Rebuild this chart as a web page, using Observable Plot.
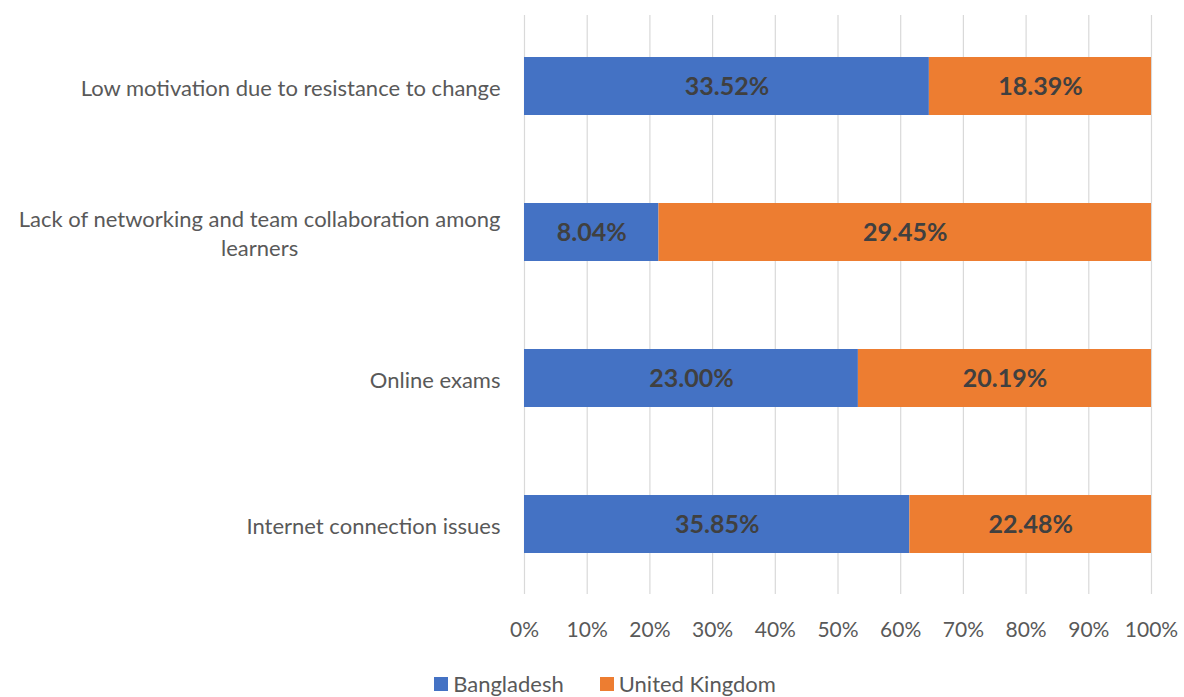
<!DOCTYPE html>
<html>
<head>
<meta charset="utf-8">
<script src="https://cdn.jsdelivr.net/npm/d3@7"></script>
<script src="https://cdn.jsdelivr.net/npm/@observablehq/plot@0.6"></script>
<style>
  html, body { margin: 0; padding: 0; background: #fff; }
  #chart { width: 1184px; }
  .legend { display: flex; justify-content: center; align-items: center; gap: 36px;
            font-family: Lato, sans-serif; font-size: 22px; color: #595959;
            margin-top: 10px; padding-left: 26px; }
  .legend span.sw { display: inline-block; width: 14px; height: 14px; margin-right: 5px; }
  .legend .item { display: flex; align-items: center; }
</style>
</head>
<body>
<div id="chart"></div>
<script>
const categories = [
  "Low motivation due to resistance to change",
  "Lack of networking and team collaboration among learners",
  "Online exams",
  "Internet connection issues"
];
const wrappedLabels = {
  "Lack of networking and team collaboration among learners": "Lack of networking and team collaboration among\nlearners"
};
const series = ["Bangladesh", "United Kingdom"];
const bangladesh = [33.52, 8.04, 23.00, 35.85];
const unitedKingdom = [18.39, 29.45, 20.19, 22.48];
const colors = ["#4472C4", "#ED7D31"];
const xTicks = [0, 0.1, 0.2, 0.3, 0.4, 0.5, 0.6, 0.7, 0.8, 0.9, 1];

const data = [];
categories.forEach((c, i) => {
  data.push({category: c, country: series[0], value: bangladesh[i]});
  data.push({category: c, country: series[1], value: unitedKingdom[i]});
});

const stackOpts = {offset: "normalize", x: "value", y: "category", z: "country"};

const chart = Plot.plot({
  width: 1184,
  height: 660,
  marginLeft: 524,
  marginRight: 33,
  marginTop: 15,
  marginBottom: 66,
  style: {fontFamily: "Lato, sans-serif", background: "#fff"},
  x: {domain: [0, 1]},
  y: {domain: categories, paddingInner: 0.605, paddingOuter: 0.28},
  color: {domain: series, range: colors},
  marks: [
    Plot.gridX(xTicks, {stroke: "#d9d9d9", strokeOpacity: 1, strokeWidth: 1.2}),
    Plot.barX(data, Plot.stackX({...stackOpts, fill: "country"})),
    Plot.text(data, Plot.stackX({...stackOpts,
      text: d => d.value.toFixed(2) + "%",
      fill: "#404040", fontWeight: "bold", fontSize: 25})),
    Plot.axisX({ticks: xTicks, tickFormat: d3.format(".0%"), tickSize: 0, tickPadding: 28,
      fontSize: 21, color: "#595959", label: null}),
    Plot.axisY({tickSize: 0, tickPadding: 24, fontSize: 22, color: "#595959", label: null,
      lineHeight: 1.28, tickFormat: d => wrappedLabels[d] || d})
  ]
});
document.getElementById("chart").appendChild(chart);

// center multi-line category labels under their right-aligned anchor
chart.querySelectorAll("text").forEach(t => {
  const spans = t.querySelectorAll("tspan");
  if (spans.length > 1) {
    const w = t.getBBox().width;
    t.setAttribute("text-anchor", "middle");
    spans.forEach(s => s.setAttribute("x", -w / 2));
  }
});

const legend = document.createElement("div");
legend.className = "legend";
series.forEach((s, i) => {
  const item = document.createElement("div");
  item.className = "item";
  const sw = document.createElement("span");
  sw.className = "sw";
  sw.style.background = colors[i];
  item.appendChild(sw);
  item.appendChild(document.createTextNode(s));
  legend.appendChild(item);
});
document.body.appendChild(legend);
</script>
</body>
</html>
